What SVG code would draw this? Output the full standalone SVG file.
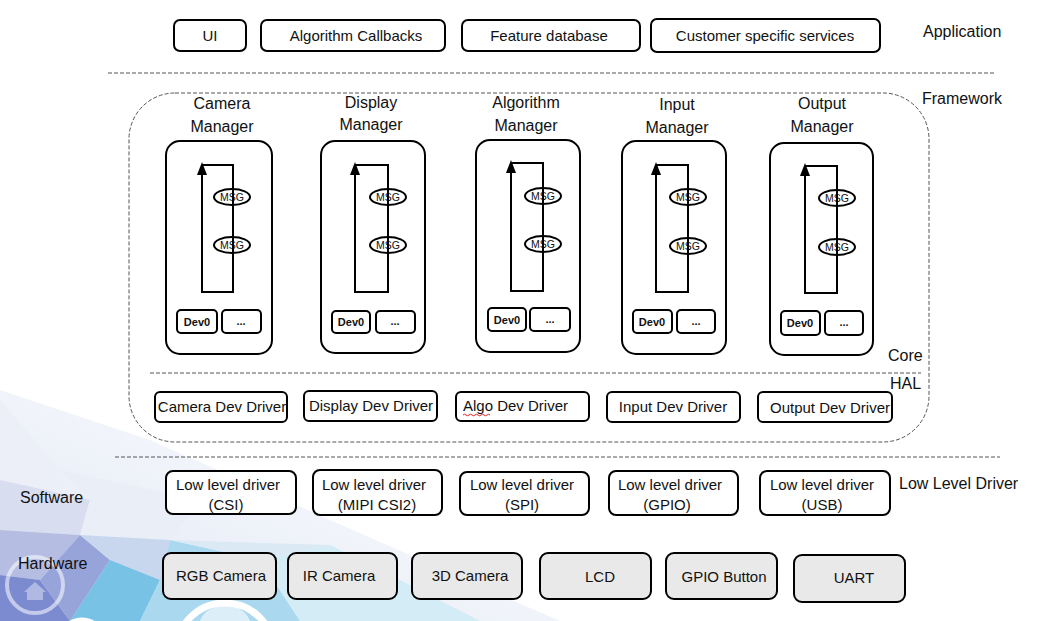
<svg xmlns="http://www.w3.org/2000/svg" width="1046" height="621" viewBox="0 0 1046 621">
<defs>
<style>
text{font-family:"Liberation Sans",Arial,sans-serif;fill:#111;}
.lbl{font-size:15px;text-anchor:middle;}
.mgr{font-size:16px;text-anchor:middle;}
.side{font-size:16px;}
.box{fill:#fff;stroke:#000;stroke-width:2;}
.hw{fill:#e9e9e9;stroke:#000;stroke-width:2;}
.mbox{fill:#fff;stroke:#000;stroke-width:2;}
.loop{fill:none;stroke:#000;stroke-width:2;}
.msg{fill:#fff;stroke:#000;stroke-width:2;}
.msgt{font-size:10.5px;text-anchor:middle;}
.dev{font-size:11px;font-weight:bold;text-anchor:middle;}
.dash{fill:none;stroke:#555;stroke-width:1;stroke-dasharray:4 2;}
.ah{fill:#000;}
</style>
<linearGradient id="sol" x1="0" y1="0" x2="1" y2="0">
<stop offset="0" stop-color="#222"/>
<stop offset="0.5" stop-color="#888"/>
<stop offset="1" stop-color="#111"/>
</linearGradient>
<linearGradient id="bgfade" x1="0" y1="1" x2="1" y2="0">
<stop offset="0" stop-color="#dfe4f3" stop-opacity="1"/>
<stop offset="0.6" stop-color="#eef2f9" stop-opacity="0.7"/>
<stop offset="1" stop-color="#ffffff" stop-opacity="0"/>
</linearGradient>
</defs>
<rect width="1046" height="621" fill="#fff"/>
<g id="background">
<polygon points="0,390 150,440 330,520 560,621 0,621" fill="url(#bgfade)"/>
<polygon points="0,400 60,470 0,500" fill="#eceff8"/>
<polygon points="0,480 90,500 80,535 0,530" fill="#d8ddf0"/>
<polygon points="60,470 200,500 170,540 80,535 90,500" fill="#e9eef7"/>
<polygon points="0,530 80,535 40,580 0,575" fill="#b5bde2"/>
<polygon points="0,575 40,580 70,621 0,621" fill="#7c8ad0"/>
<polygon points="40,580 80,535 110,560 70,621" fill="#97a4da"/>
<polygon points="80,535 170,540 160,580 110,560" fill="#c8d6ee"/>
<polygon points="110,560 160,580 140,621 70,621" fill="#78c2e6"/>
<polygon points="160,580 170,540 260,560 300,621 140,621" fill="#a9d8ef"/>
<polygon points="170,540 330,545 260,560" fill="#dbe9f5"/>
<polygon points="260,560 330,545 420,590 480,621 300,621" fill="#d3ecf6"/>
<circle cx="35" cy="585" r="28" fill="none" stroke="#fff" stroke-width="4" opacity="0.55"/>
<path d="M24,592 L35,582 L46,592 L43,592 L43,600 L27,600 L27,592 Z" fill="#fff" opacity="0.4"/>
<circle cx="82" cy="642" r="22" fill="none" stroke="#fff" stroke-width="5"/>
<circle cx="225" cy="652" r="49" fill="none" stroke="#fff" stroke-width="7"/>
<path d="M200,621 Q205,607 225,605 Q245,607 250,621 Z" fill="#fff" opacity="0.6"/>
</g>
<g id="layers">
<line x1="108" y1="73" x2="995" y2="73" class="dash"/>
<rect x="129" y="93" width="800" height="349" rx="46" ry="46" class="dash"/>
<line x1="150" y1="373" x2="921" y2="373" class="dash"/>
<line x1="115" y1="457" x2="1000" y2="457" class="dash"/>
<line x1="14" y1="533" x2="1026" y2="533" stroke="url(#sol)" stroke-width="1.2"/>
</g>
<g id="side-labels">
<text class="side" x="923" y="37">Application</text>
<text class="side" x="922" y="104">Framework</text>
<text class="side" x="888" y="361">Core</text>
<text class="side" x="890" y="389">HAL</text>
<text class="side" x="899" y="489">Low Level Driver</text>
<text class="side" x="20" y="503">Software</text>
<text class="side" x="18" y="569">Hardware</text>
</g>
<g id="app-ui"><rect x="174" y="20" width="72" height="31" rx="6" class="box"/><text class="lbl" x="210" y="41">UI</text></g>
<g id="app-algo"><rect x="261" y="20" width="184" height="31" rx="6" class="box"/><text class="lbl" x="356" y="41">Algorithm Callbacks</text></g>
<g id="app-feature"><rect x="462" y="20" width="178" height="31" rx="6" class="box"/><text class="lbl" x="549" y="41">Feature database</text></g>
<g id="app-customer"><rect x="651" y="19" width="229" height="33" rx="6" class="box"/><text class="lbl" x="765" y="41">Customer specific services</text></g>

<g id="mgr-camera">
<text class="mgr" x="222" y="109">Camera</text><text class="mgr" x="222" y="132">Manager</text>
<rect x="166" y="141" width="106" height="213" rx="14" class="mbox"/>
<ellipse cx="232" cy="197" rx="18" ry="8" class="msg"/><text class="msgt" x="232" y="201">MSG</text>
<ellipse cx="232" cy="245" rx="18" ry="8" class="msg"/><text class="msgt" x="232" y="249">MSG</text>
<path d="M202,165 H233 V292 H202 V172" class="loop"/>
<polygon points="202,162 197,175 207,175" class="ah"/>
<rect x="177" y="310" width="40" height="23" rx="4" class="box"/><text class="dev" x="197" y="326">Dev0</text>
<rect x="222" y="310" width="39" height="23" rx="4" class="box"/><text class="dev" x="241" y="325">...</text>
</g>
<g id="mgr-display">
<text class="mgr" x="371" y="108">Display</text><text class="mgr" x="371" y="130">Manager</text>
<rect x="321" y="141" width="104" height="212" rx="14" class="mbox"/>
<ellipse cx="388" cy="197" rx="18" ry="8" class="msg"/><text class="msgt" x="388" y="201">MSG</text>
<ellipse cx="388" cy="245" rx="18" ry="8" class="msg"/><text class="msgt" x="388" y="249">MSG</text>
<path d="M355,165 H388 V292 H355 V172" class="loop"/>
<polygon points="355,162 350,175 360,175" class="ah"/>
<rect x="332" y="311" width="38" height="22" rx="4" class="box"/><text class="dev" x="351" y="326">Dev0</text>
<rect x="376" y="311" width="39" height="22" rx="4" class="box"/><text class="dev" x="395" y="325">...</text>
</g>
<g id="mgr-algorithm">
<text class="mgr" x="526" y="108">Algorithm</text><text class="mgr" x="526" y="131">Manager</text>
<rect x="476" y="140" width="104" height="212" rx="14" class="mbox"/>
<ellipse cx="543" cy="196" rx="18" ry="8" class="msg"/><text class="msgt" x="543" y="200">MSG</text>
<ellipse cx="543" cy="244" rx="18" ry="8" class="msg"/><text class="msgt" x="543" y="248">MSG</text>
<path d="M511,163 H543 V291 H511 V170" class="loop"/>
<polygon points="511,160 506,173 516,173" class="ah"/>
<rect x="488" y="308" width="38" height="23" rx="4" class="box"/><text class="dev" x="507" y="324">Dev0</text>
<rect x="530" y="308" width="40" height="23" rx="4" class="box"/><text class="dev" x="550" y="323">...</text>
</g>
<g id="mgr-input">
<text class="mgr" x="677" y="110">Input</text><text class="mgr" x="677" y="133">Manager</text>
<rect x="622" y="141" width="104" height="213" rx="14" class="mbox"/>
<ellipse cx="688" cy="197" rx="18" ry="8" class="msg"/><text class="msgt" x="688" y="201">MSG</text>
<ellipse cx="688" cy="246" rx="18" ry="8" class="msg"/><text class="msgt" x="688" y="250">MSG</text>
<path d="M656,165 H688 V292 H656 V172" class="loop"/>
<polygon points="656,162 651,175 661,175" class="ah"/>
<rect x="633" y="310" width="39" height="23" rx="4" class="box"/><text class="dev" x="652" y="326">Dev0</text>
<rect x="677" y="310" width="38" height="23" rx="4" class="box"/><text class="dev" x="696" y="325">...</text>
</g>
<g id="mgr-output">
<text class="mgr" x="822" y="109">Output</text><text class="mgr" x="822" y="132">Manager</text>
<rect x="770" y="143" width="103" height="212" rx="14" class="mbox"/>
<ellipse cx="837" cy="198" rx="18" ry="8" class="msg"/><text class="msgt" x="837" y="202">MSG</text>
<ellipse cx="837" cy="247" rx="18" ry="8" class="msg"/><text class="msgt" x="837" y="251">MSG</text>
<path d="M805,166 H837 V293 H805 V173" class="loop"/>
<polygon points="805,163 800,176 810,176" class="ah"/>
<rect x="781" y="311" width="39" height="24" rx="4" class="box"/><text class="dev" x="800" y="327">Dev0</text>
<rect x="825" y="311" width="38" height="24" rx="4" class="box"/><text class="dev" x="844" y="326">...</text>
</g>

<g id="hal-camera"><rect x="155" y="392" width="132" height="30" rx="5" class="box"/><text class="lbl" x="222" y="412">Camera Dev Driver</text></g>
<g id="hal-display"><rect x="304" y="391" width="133" height="30" rx="5" class="box"/><text class="lbl" x="371" y="411">Display Dev Driver</text></g>
<g id="hal-algo"><rect x="456" y="392" width="133" height="29" rx="5" class="box"/><text class="lbl" x="463" y="411" style="text-anchor:start">Algo Dev Driver</text><path d="M463,415 q1.5,-1.5 3,0 t3,0 t3,0 t3,0 t3,0 t3,0 t3,0 t3,0 t3,0" fill="none" stroke="#d22" stroke-width="1"/></g>
<g id="hal-input"><rect x="607" y="392" width="133" height="30" rx="5" class="box"/><text class="lbl" x="673" y="412">Input Dev Driver</text></g>
<g id="hal-output"><rect x="758" y="392" width="134" height="30" rx="5" class="box"/><text class="lbl" x="770" y="413" style="text-anchor:start">Output Dev Driver</text></g>

<g id="lld-csi"><rect x="166" y="471" width="130" height="43" rx="7" class="box"/><text class="lbl" x="228" y="490">Low level driver</text><text class="lbl" x="226" y="510">(CSI)</text></g>
<g id="lld-mipi"><rect x="313" y="470" width="129" height="45" rx="7" class="box"/><text class="lbl" x="374" y="490">Low level driver</text><text class="lbl" x="377" y="510">(MIPI CSI2)</text></g>
<g id="lld-spi"><rect x="460" y="472" width="129" height="43" rx="7" class="box"/><text class="lbl" x="522" y="490">Low level driver</text><text class="lbl" x="522" y="510">(SPI)</text></g>
<g id="lld-gpio"><rect x="609" y="471" width="129" height="44" rx="7" class="box"/><text class="lbl" x="670" y="490">Low level driver</text><text class="lbl" x="667" y="510">(GPIO)</text></g>
<g id="lld-usb"><rect x="760" y="471" width="130" height="44" rx="7" class="box"/><text class="lbl" x="822" y="490">Low level driver</text><text class="lbl" x="822" y="510">(USB)</text></g>

<g id="hw-rgb"><rect x="163" y="553" width="113" height="46" rx="8" class="hw"/><text class="lbl" x="221" y="581">RGB Camera</text></g>
<g id="hw-ir"><rect x="288" y="553" width="109" height="46" rx="8" class="hw"/><text class="lbl" x="339" y="581">IR Camera</text></g>
<g id="hw-3d"><rect x="412" y="553" width="110" height="46" rx="8" class="hw"/><text class="lbl" x="470" y="581">3D Camera</text></g>
<g id="hw-lcd"><rect x="540" y="553" width="111" height="46" rx="8" class="hw"/><text class="lbl" x="600" y="582">LCD</text></g>
<g id="hw-gpio"><rect x="666" y="553" width="111" height="46" rx="8" class="hw"/><text class="lbl" x="724" y="582">GPIO Button</text></g>
<g id="hw-uart"><rect x="794" y="555" width="111" height="47" rx="8" class="hw"/><text class="lbl" x="854" y="583">UART</text></g>
</svg>
